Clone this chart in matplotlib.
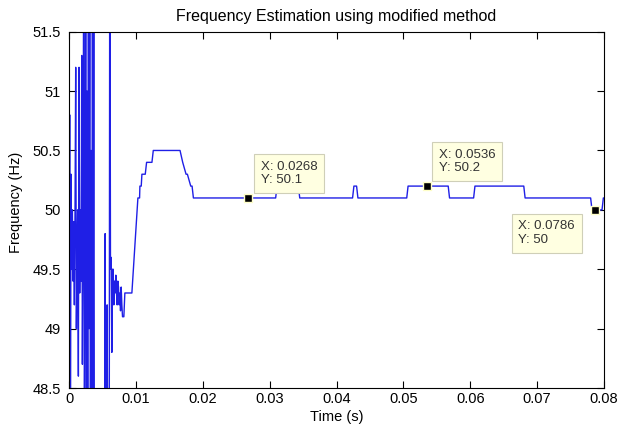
import numpy as np
import matplotlib
matplotlib.use("Agg")
import matplotlib.pyplot as plt

plt.rcParams["font.family"] = ["Liberation Sans", "DejaVu Sans"]

# start-up transient: estimator output every 0.1 ms (values past the axes are clipped)
t_fast = [0.0000, 0.0001, 0.0002, 0.0003, 0.0004, 0.0005, 0.0006, 0.0007, 0.0008, 0.0009,
          0.0010, 0.0011, 0.0012, 0.0013, 0.0014, 0.0015, 0.0016, 0.0017, 0.0018, 0.0019,
          0.0020, 0.0021, 0.0022, 0.0023, 0.0024, 0.0025, 0.0026, 0.0027, 0.0028, 0.0029,
          0.0030, 0.0031, 0.0032, 0.0033, 0.0034, 0.0035, 0.0036, 0.0037, 0.0038, 0.0053,
          0.0054, 0.0055, 0.0056, 0.0057, 0.0058, 0.0059, 0.0060, 0.0061, 0.0062, 0.0063,
          0.0064, 0.0065, 0.0066, 0.0067, 0.0068, 0.0069, 0.0070, 0.0071, 0.0072, 0.0073,
          0.0074, 0.0075, 0.0076, 0.0077, 0.0078, 0.0079, 0.0080, 0.0082]
f_fast = [49.2, 50.8, 47.5, 50.3, 49.5, 50.0, 49.4, 49.9, 49.2, 50.0,
          51.2, 49.0, 49.6, 50.0, 48.6, 51.2, 49.3, 50.0, 49.4, 51.3,
          48.7, 49.8, 52.5, 48.0, 49.5, 52.5, 47.5, 51.0, 48.0, 52.5,
          49.0, 52.5, 47.5, 50.5, 47.0, 52.5, 48.2, 52.5, 47.0, 47.0,
          49.8, 47.5, 47.8, 49.2, 47.5, 47.5, 47.0, 53.0, 49.5, 49.6,
          48.8, 49.5, 49.5, 49.2, 49.4, 49.3, 49.45, 49.3, 49.2, 49.4,
          49.35, 49.2, 49.3, 49.15, 49.35, 49.2, 49.1, 49.1]

# settled part: level changes of the estimate
t_slow = [0.00835, 0.0094, 0.0103, 0.01055, 0.0106, 0.0108, 0.0109, 0.0114, 0.0116, 0.0124,
          0.0126, 0.0166, 0.0170, 0.0175, 0.0177, 0.0182, 0.0184, 0.0186, 0.0309, 0.0311,
          0.0343, 0.0345, 0.0424, 0.0426, 0.0430, 0.0432, 0.0505, 0.0507, 0.0567, 0.0569,
          0.0605, 0.0607, 0.0680, 0.0682, 0.0780, 0.0782, 0.0797, 0.0799, 0.0800]
f_slow = [49.3, 49.3, 50.1, 50.1, 50.2, 50.2, 50.3, 50.3, 50.4, 50.4,
          50.5, 50.5, 50.4, 50.3, 50.3, 50.2, 50.2, 50.1, 50.1, 50.2,
          50.2, 50.1, 50.1, 50.2, 50.2, 50.1, 50.1, 50.2, 50.2, 50.1,
          50.1, 50.2, 50.2, 50.1, 50.1, 50.0, 50.0, 50.1, 50.1]

# data cursors
tip_x = [0.0268, 0.0536, 0.0786]
tip_y = [50.1, 50.2, 50.0]
tip_lbl = ["X: 0.0268\nY: 50.1", "X: 0.0536\nY: 50.2", "X: 0.0786\nY: 50"]
tip_off = [(6, 5, "left", "bottom"), (5, 5, "left", "bottom"), (-13, -4, "right", "top")]

xticks = [0, 0.01, 0.02, 0.03, 0.04, 0.05, 0.06, 0.07, 0.08]
xtick_lbl = ["0", "0.01", "0.02", "0.03", "0.04", "0.05", "0.06", "0.07", "0.08"]
yticks = [48.5, 49, 49.5, 50, 50.5, 51, 51.5]
ytick_lbl = ["48.5", "49", "49.5", "50", "50.5", "51", "51.5"]

t = np.array(t_fast + t_slow)
f = np.array(f_fast + f_slow)

fig = plt.figure(figsize=(6.19, 4.26), dpi=100)
ax = fig.add_axes([0.1115, 0.0892, 0.8643, 0.8364])

ax.plot(t, f, color="#1f1fe6", lw=1.0)

ax.set_xlim(0, 0.08)
ax.set_ylim(48.5, 51.5)
ax.set_xticks(xticks)
ax.set_xticklabels(xtick_lbl)
ax.set_yticks(yticks)
ax.set_yticklabels(ytick_lbl)
ax.tick_params(direction="in", length=5, width=0.8, top=True, right=True,
               labelsize=10.5)
ax.tick_params(axis="x", pad=3)
ax.tick_params(axis="y", pad=6)
for s in ax.spines.values():
    s.set_linewidth(0.8)

fs_tip = 9.5
pad_px = 0.5 * fs_tip * 100 / 72
for x, y, lbl, (dx, dy, ha, va) in zip(tip_x, tip_y, tip_lbl, tip_off):
    ax.plot(x, y, "s", ms=6, mfc="k", mec="#ffffc8", mew=1.0, zorder=5)
    sx = 1 if dx > 0 else -1
    sy = 1 if dy > 0 else -1
    ax.annotate(lbl, xy=(x, y), xytext=(dx + sx * pad_px, dy + sy * pad_px),
                textcoords="offset pixels", ha=ha, va=va, ma="left",
                fontsize=fs_tip, color="#333333",
                bbox=dict(boxstyle="square,pad=0.5", fc="#ffffe1", ec="#cfcfb8", lw=0.8),
                zorder=6)

ax.text(0.5, 1.044, "Frequency Estimation using modified method", transform=ax.transAxes,
        ha="center", va="center", fontsize=11.5)
ax.set_xlabel("Time (s)", fontsize=10.5)
ax.xaxis.set_label_coords(0.5, -0.08)
ax.xaxis.label.set_va("center")
ax.set_ylabel("Frequency (Hz)", fontsize=10.5)
ax.yaxis.set_label_coords(-0.099, 0.522)
ax.yaxis.label.set_va("center")

plt.savefig("out.png", dpi=100)
